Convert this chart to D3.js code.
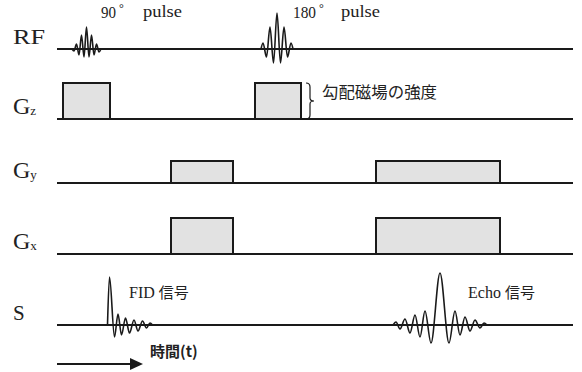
<!DOCTYPE html>
<html><head><meta charset="utf-8">
<script src="https://cdn.jsdelivr.net/npm/d3@7"></script>
<style>body{margin:0;background:#fff}svg{display:block}</style></head>
<body><svg id="c" width="582" height="372"></svg>
<script>
// ---- data ----
const channels = ["RF", "Gz", "Gy", "Gx", "S"];
const channelMain = ["RF", "G", "G", "G", "S"];
const channelSub = ["", "z", "y", "x", ""];
const timeExtent = [0, 516];            // arbitrary time units
// gradient lobes: [start, end, amplitude]
const gzLobes = [[6, 53, 36], [198, 244, 36]];
const gyLobes = [[114, 176, 22], [319, 443, 22]];
const gxLobes = [[114, 176, 36], [319, 443, 36]];
// RF pulses: [t, amplitude] extrema
const rf90 = [[15,0],[17,-2],[19.5,5],[22,-6],[24.5,14],[27,-8],[29.5,22],[32,-8],[34.5,14],[37,-6],[39.5,5],[42,-3],[44,0]];
const rf180 = [[204,0],[206,6],[209.5,-8],[213,22],[216.5,-14],[220,36],[223.5,-14],[227,22],[230.5,-8],[234,6],[236,0]];
// signals
const fid = [[50.5,0],[52.5,48],[57.5,-12],[61,11],[64.5,-10],[68.5,7],[72.5,-8],[77,5],[81,-6],[85.5,4],[89.5,-3],[93,2],[95.5,0]];
const echo = [[336,0],[339,3],[343,-4],[348,6],[353,-8],[358,10],[363,-12],[368,14],[374,-18],[383,52],[392,-18],[398,14],[403,-10],[408,8],[413,-6],[418,5],[423,-3],[427,2],[430,0]];
const arrowSpan = [0, 86];

// ---- scales ----
const svg = d3.select("#c");
const x = d3.scaleLinear().domain(timeExtent).range([57, 573]);
const base = d3.scaleOrdinal().domain(channels).range([49, 119, 183, 254, 325]);
const amp = d3.scaleLinear().domain([0, 50]).range([0, -50]);
const ink = "#1a1a1a";
const serif = "'Liberation Serif','DejaVu Serif',serif";
const cjk = "'Noto Sans CJK JP','Noto Sans CJK SC',sans-serif";

// baselines
svg.append("g").selectAll("line").data(channels).join("line")
  .attr("x1", x(timeExtent[0])).attr("x2", x(timeExtent[1]))
  .attr("y1", d => base(d)).attr("y2", d => base(d))
  .attr("stroke", ink).attr("stroke-width", 2);

// gradient lobes
function lobes(ch, data) {
  svg.append("g").selectAll("rect").data(data).join("rect")
    .attr("x", d => x(d[0])).attr("width", d => x(d[1]) - x(d[0]))
    .attr("y", d => base(ch) + amp(d[2])).attr("height", d => -amp(d[2]))
    .attr("fill", "#e2e2e2").attr("stroke", ink).attr("stroke-width", 2);
}
lobes("Gz", gzLobes); lobes("Gy", gyLobes); lobes("Gx", gxLobes);

// waveforms
function wave(ch, data) {
  const line = d3.line().x(d => x(d[0])).y(d => base(ch) + amp(d[1])).curve(d3.curveMonotoneX);
  svg.append("path").datum(data).attr("d", line)
    .attr("fill", "none").attr("stroke", ink).attr("stroke-width", 1.6);
}
wave("RF", rf90); wave("RF", rf180); wave("S", fid); wave("S", echo);

// channel labels
const lab = svg.append("g").attr("fill", "#222").attr("font-family", serif);
channels.forEach((c, i) => {
  const t = lab.append("text").attr("x", 13).attr("y", base(c) - 5);
  if (channelSub[i]) {
    t.append("tspan").attr("font-size", 24).text(channelMain[i]);
    t.append("tspan").attr("font-size", 13).attr("dy", 1).text(channelSub[i]);
  } else {
    t.attr("font-size", 21).text(channelMain[i]);
    if (c === "RF") t.attr("textLength", 32).attr("lengthAdjust", "spacingAndGlyphs");
  }
});

// pulse labels
function txt(xp, yp, s, size, fam, len) {
  const t = svg.append("text").attr("x", xp).attr("y", yp).attr("font-size", size)
    .attr("font-family", fam).attr("fill", "#222").text(s);
  if (len) t.attr("textLength", len).attr("lengthAdjust", "spacingAndGlyphs");
  return t;
}
txt(101, 18, "90", 17, serif, 15);
txt(119, 12, "°", 12, serif);
txt(143, 17, "pulse", 16, serif, 39);
txt(293, 18, "180", 17, serif, 23);
txt(319, 12, "°", 12, serif);
txt(341, 17, "pulse", 16, serif, 39);

// brace for gradient strength
const bx = x(gzLobes[1][1]) + 5, by0 = base("Gz") + amp(gzLobes[1][2]), by1 = base("Gz");
const bm = (by0 + by1) / 2;
const p = d3.path();
p.moveTo(bx, by0);
p.quadraticCurveTo(bx + 4, by0, bx + 4, by0 + 4);
p.lineTo(bx + 4, bm - 3);
p.quadraticCurveTo(bx + 4, bm, bx + 8, bm);
p.quadraticCurveTo(bx + 4, bm, bx + 4, bm + 3);
p.lineTo(bx + 4, by1 - 4);
p.quadraticCurveTo(bx + 4, by1, bx, by1);
svg.append("path").attr("d", p.toString()).attr("fill", "none").attr("stroke", ink).attr("stroke-width", 1.2);
txt(322, 98, "勾配磁場の強度", 16, cjk, 115);

// signal labels
const f = txt(129, 298, "", 16, serif);
f.append("tspan").text("FID ");
f.append("tspan").attr("font-family", cjk).attr("font-size", 15).text("信号");
const e = txt(468, 298, "", 16, serif);
e.append("tspan").text("Echo ");
e.append("tspan").attr("font-family", cjk).attr("font-size", 15).text("信号");

// time arrow
const ay = 364;
svg.append("line").attr("x1", x(arrowSpan[0])).attr("x2", x(arrowSpan[1]) - 10)
  .attr("y1", ay).attr("y2", ay).attr("stroke", ink).attr("stroke-width", 2);
svg.append("path").attr("d", `M${x(arrowSpan[1])},${ay} L${x(arrowSpan[1]) - 13},${ay - 6} L${x(arrowSpan[1]) - 13},${ay + 6} Z`).attr("fill", ink);
txt(150, 357, "時間(t)", 15, cjk).attr("font-weight", "bold");
</script></body></html>
